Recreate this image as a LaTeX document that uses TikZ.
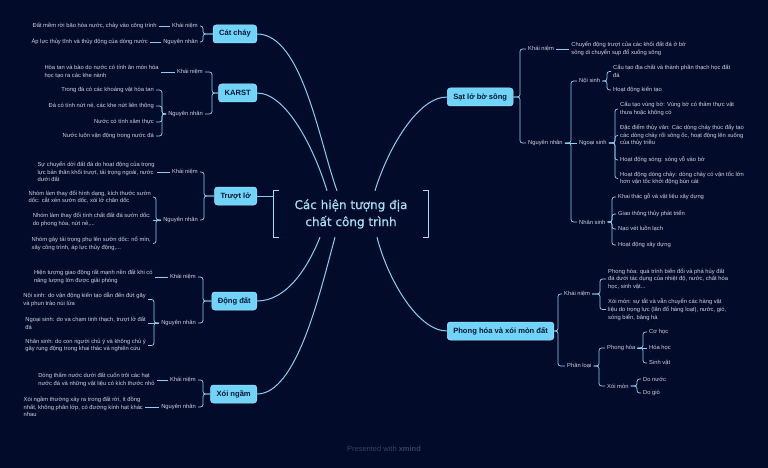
\documentclass[tikz,border=0pt]{standalone}
\usepackage{fontspec}
\setmainfont{Liberation Sans}
\newfontfamily\centerfont[FakeBold=0.7]{DejaVu Sans}
\usetikzlibrary{positioning}
\definecolor{bgc}{HTML}{030B2B}
\definecolor{linec}{HTML}{8CCFEE}
\definecolor{mainc}{HTML}{70D4F8}
\definecolor{mainedge}{HTML}{A5E6FF}
\definecolor{maintext}{HTML}{0A1633}
\definecolor{leafc}{HTML}{CDD3DF}
\definecolor{ctrc}{HTML}{A6DCF4}
\definecolor{wmc}{HTML}{3A4262}
\begin{document}
\begin{tikzpicture}[x=1pt,y=-1pt,
  leaf/.style={font=\fontsize{5.8}{7.6}\selectfont, text=leafc, inner sep=2pt, align=left},
  lab/.style={font=\fontsize{5.8}{7.6}\selectfont, text=leafc, inner sep=2pt},
  mainbox/.style={fill=mainc, draw=mainedge, line width=0.5pt, rounded corners=3pt, text=maintext,
    font=\bfseries\fontsize{7.6}{9}\selectfont, minimum height=18pt, inner xsep=6pt, inner ysep=0pt},
  br/.style={draw=linec, line width=0.75pt, rounded corners=2.5pt},
  curve/.style={draw=linec, line width=1pt},
  cbr/.style={draw=ctrc, line width=1pt},
  ]
\fill[bgc] (0,0) rectangle (768,468);
\useasboundingbox (0,0) rectangle (768,468);

% ---------- centre ----------
\node[font=\centerfont\fontsize{12}{17}\selectfont, text=ctrc, align=center,
  minimum width=154pt, minimum height=46pt, inner sep=0pt] (ctr) at (351,214)
  {Các hiện tượng địa\\chất công trình};
\draw[cbr] ([xshift=5pt]ctr.north west) -- (ctr.north west) -- (ctr.south west) -- ([xshift=5pt]ctr.south west);
\draw[cbr] ([xshift=-5pt]ctr.north east) -- (ctr.north east) -- (ctr.south east) -- ([xshift=-5pt]ctr.south east);

% ---------- Cát cháy ----------
\node[mainbox, anchor=east] (cat) at (257,34) {Cát cháy};
\coordinate (jcat) at (203,34);
\node[lab, anchor=east] (catk) at (200,26) {Khái niệm};
\node[leaf, left=11pt of catk] (catkl) {Đất mềm rời bão hòa nước, chảy vào công trình};
\node[lab, anchor=east] (catn) at (200,42) {Nguyên nhân};
\node[leaf, left=11pt of catn] (catnl) {Áp lực thủy tĩnh và thủy động của dòng nước};
\foreach \c in {catk,catn} \draw[br] (cat.west) -- (jcat) |- (\c.east);
\draw[br] (catk.west) -- (catkl.east);
\draw[br] (catn.west) -- (catnl.east);

% ---------- KARST ----------
\node[mainbox, anchor=east] (kar) at (257,93) {KARST};
\coordinate (jkar) at (212,93);
\node[lab, anchor=east] (kark) at (205,72) {Khái niệm};
\node[leaf, left=14pt of kark] (karkl) {Hòa tan và bào do nước có tính ăn mòn hóa\\học tạo ra các khe nành};
\node[lab, anchor=east] (karn) at (205,114) {Nguyên nhân};
\coordinate (jkarn) at (162,114);
\node[leaf, anchor=east] (karn1) at (156,90) {Trong đá có các khoáng vật hòa tan};
\node[leaf, anchor=east] (karn2) at (156,106) {Đá có tính nứt nẻ, các khe nứt liên thông};
\node[leaf, anchor=east] (karn3) at (156,122) {Nước có tính xâm thực};
\node[leaf, anchor=east] (karn4) at (156,136) {Nước luôn vận động trong nước đá};
\foreach \c in {kark,karn} \draw[br] (kar.west) -- (jkar) |- (\c.east);
\draw[br] (kark.west) -- (karkl.east);
\foreach \c in {karn1,karn2,karn3,karn4} \draw[br] (karn.west) -- (jkarn) |- (\c.east);

% ---------- Trượt lở ----------
\node[mainbox, anchor=east] (tru) at (257,196) {Trượt lở};
\coordinate (jtru) at (204,196);
\node[lab, anchor=east] (truk) at (200,172) {Khái niệm};
\node[leaf, left=13pt of truk] (trukl) {Sự chuyển dời đất đá do hoạt động của trọng\\lực bản thân khối trượt, tải trọng ngoài, nước\\dưới đất};
\node[lab, anchor=east] (trun) at (200,220) {Nguyên nhân};
\coordinate (jtrun) at (156,220);
\node[leaf, anchor=east] (trun1) at (153,197) {Nhóm làm thay đổi hình dạng, kích thước sườn\\dốc: cắt xén sườn dốc, xói lở chân dốc};
\node[leaf, anchor=east] (trun2) at (153,220) {Nhóm làm thay đổi tính chất đất đá sườn dốc:\\do phong hóa, nứt nẻ,...};
\node[leaf, anchor=east] (trun3) at (153,243.5) {Nhóm gây tải trọng phụ lên sườn dốc: nổ mìn,\\xây công trình, áp lực thủy động,...};
\foreach \c in {truk,trun} \draw[br] (tru.west) -- (jtru) |- (\c.east);
\draw[br] (truk.west) -- (trukl.east);
\foreach \c in {trun1,trun3} \draw[br] (trun.west) -- (jtrun) |- (\c.east);
\draw[br] (trun.west) -- (trun2.east);

% ---------- Động đất ----------
\node[mainbox, anchor=east] (dong) at (257,301) {Động đất};
\coordinate (jdong) at (203,301);
\node[lab, anchor=east] (dongk) at (198,277) {Khái niệm};
\node[leaf, left=13pt of dongk] (dongkl) {Hiện tượng giao động rất mạnh nền đất khi có\\năng lượng lớn được giải phóng};
\node[lab, anchor=east] (dongn) at (198,323) {Nguyên nhân};
\coordinate (jdongn) at (154,323);
\node[leaf, anchor=east] (dongn1) at (148,299.5) {Nội sinh: do vận động kiến tạo dẫn đến đứt gãy\\và phun trào núi lửa};
\node[leaf, anchor=east] (dongn2) at (148,323) {Ngoại sinh: do va chạm tinh thạch, trượt lở đất\\đá};
\node[leaf, anchor=east] (dongn3) at (148,345.5) {Nhân sinh: do con người chủ ý và không chủ ý\\gây rung động trong khai thác và nghiên cứu};
\foreach \c in {dongk,dongn} \draw[br] (dong.west) -- (jdong) |- (\c.east);
\draw[br] (dongk.west) -- (dongkl.east);
\foreach \c in {dongn1,dongn3} \draw[br] (dongn.west) -- (jdongn) |- (\c.east);
\draw[br] (dongn.west) -- (dongn2.east);

% ---------- Xói ngầm ----------
\node[mainbox, anchor=east] (xoi) at (257,394) {Xói ngầm};
\coordinate (jxoi) at (203,394);
\node[lab, anchor=east] (xoik) at (198,380) {Khái niệm};
\node[leaf, left=11pt of xoik] (xoikl) {Dòng thấm nước dưới đất cuốn trôi các hạt\\nước đá và những vật liệu có kích thước nhỏ};
\node[lab, anchor=east] (xoin) at (198,407) {Nguyên nhân};
\node[leaf, left=14pt of xoin] (xoinl) {Xói ngầm thường xảy ra trong đất rời, ít đồng\\nhất, không phân lớp, có đường kính hạt khác\\nhau};
\foreach \c in {xoik,xoin} \draw[br] (xoi.west) -- (jxoi) |- (\c.east);
\draw[br] (xoik.west) -- (xoikl.east);
\draw[br] (xoin.west) -- (xoinl.east);

% ---------- Sạt lở bờ sông ----------
\node[mainbox, anchor=west] (sat) at (447,97) {Sạt lở bờ sông};
\coordinate (jsat) at (520,97);
\node[lab, anchor=west] (satk) at (526,49) {Khái niệm};
\node[leaf, right=13pt of satk] (satkl) {Chuyển động trượt của các khối đất đá ở bờ\\sông di chuyển sụp đổ xuống sông};
\node[lab, anchor=west] (satn) at (526,143) {Nguyên nhân};
\coordinate (jsatn) at (571,143);
\node[lab, anchor=west] (noi) at (577,81) {Nội sinh};
\node[lab, anchor=west] (ngoai) at (577,143) {Ngoại sinh};
\node[lab, anchor=west] (nhan) at (577,222) {Nhân sinh};
\coordinate (jnoi) at (607,81);
\node[leaf, anchor=west] (noi1) at (611,71.5) {Cấu tạo địa chất và thành phần thạch học đất\\đá};
\node[leaf, anchor=west] (noi2) at (611,90) {Hoạt động kiến tạo};
\coordinate (jngoai) at (615,143);
\node[leaf, anchor=west] (ng1) at (618,109) {Cấu tạo vùng bờ: Vùng bờ có thảm thực vật\\thưa hoặc không có};
\node[leaf, anchor=west] (ng2) at (618,135.5) {Đặc điểm thủy văn: Các dòng chảy thúc đẩy tạo\\các dòng chảy rối sông ốc, hoạt động lên xuống\\của thủy triều};
\node[leaf, anchor=west] (ng3) at (618,160) {Hoạt động sóng: sóng vỗ vào bờ};
\node[leaf, anchor=west] (ng4) at (618,178.5) {Hoạt động dòng chảy: dòng chảy có vận tốc lớn\\hơn vận tốc khởi động bùn cát};
\coordinate (jnhan) at (612,222);
\node[leaf, anchor=west] (nh1) at (616,197) {Khai thác gỗ và vật liệu xây dựng};
\node[leaf, anchor=west] (nh2) at (616,214) {Giao thông thủy phát triển};
\node[leaf, anchor=west] (nh3) at (616,229) {Nạo vét luồn lạch};
\node[leaf, anchor=west] (nh4) at (616,245) {Hoạt động xây dựng};
\foreach \c in {satk,satn} \draw[br] (sat.east) -- (jsat) |- (\c.west);
\draw[br] (satk.east) -- (satkl.west);
\foreach \c in {noi,nhan} \draw[br] (satn.east) -- (jsatn) |- (\c.west);
\draw[br] (satn.east) -- (ngoai.west);
\foreach \c in {noi1,noi2} \draw[br] (noi.east) -- (jnoi) |- (\c.west);
\foreach \c in {ng1,ng2,ng3,ng4} \draw[br] (ngoai.east) -- (jngoai) |- (\c.west);
\foreach \c in {nh1,nh2,nh3,nh4} \draw[br] (nhan.east) -- (jnhan) |- (\c.west);

% ---------- Phong hóa và xói mòn đất ----------
\node[mainbox, anchor=west] (pho) at (447,331) {Phong hóa và xói mòn đất};
\coordinate (jpho) at (558,331);
\node[lab, anchor=west] (phok) at (562,294) {Khái niệm};
\coordinate (jphok) at (600,294);
\node[leaf, anchor=west] (phok1) at (606,279) {Phong hóa: quá trình biến đổi và phá hủy đất\\đá dưới tác dụng của nhiệt độ, nước, chất hóa\\học, sinh vật...};
\node[leaf, anchor=west] (phok2) at (606,309.5) {Xói mòn: sự tắt và vẫn chuyển các hàng vật\\liệu do trọng lực (lăn đổ hàng loạt), nước, gió,\\sóng biển, băng hà};
\node[lab, anchor=west] (phol) at (565,366) {Phân loại};
\coordinate (jphol) at (599,366);
\node[lab, anchor=west] (phoph) at (605,348) {Phong hóa};
\coordinate (jphoph) at (643,348);
\node[leaf, anchor=west] (co) at (647,332) {Cơ học};
\node[leaf, anchor=west] (hoa) at (647,348) {Hóa học};
\node[leaf, anchor=west] (sinh) at (647,363) {Sinh vật};
\node[lab, anchor=west] (phox) at (605,386) {Xói mòn};
\coordinate (jphox) at (637,386);
\node[leaf, anchor=west] (donuoc) at (641,379) {Do nước};
\node[leaf, anchor=west] (dogio) at (641,393) {Do gió};
\foreach \c in {phok,phol} \draw[br] (pho.east) -- (jpho) |- (\c.west);
\foreach \c in {phok1,phok2} \draw[br] (phok.east) -- (jphok) |- (\c.west);
\foreach \c in {phoph,phox} \draw[br] (phol.east) -- (jphol) |- (\c.west);
\foreach \c in {co,sinh} \draw[br] (phoph.east) -- (jphoph) |- (\c.west);
\draw[br] (phoph.east) -- (hoa.west);
\foreach \c in {donuoc,dogio} \draw[br] (phox.east) -- (jphox) |- (\c.west);

% ---------- main connectors ----------
\draw[curve] (cat.east) .. controls +(45,0) and +(-18,-50) .. ([xshift=-14pt]ctr.north);
\draw[curve] (kar.east) .. controls +(30,0) and +(-12,-40) .. ([xshift=-24pt]ctr.north);
\draw[curve] (sat.west) .. controls +(-30,0) and +(12,-40) .. ([xshift=24pt]ctr.north);
\draw[curve] (tru.east) -- (ctr.west |- tru.east);
\draw[curve] (dong.east) .. controls +(30,0) and +(-12,30) .. ([xshift=-31pt]ctr.south);
\draw[curve] (xoi.east) .. controls +(40,0) and +(-15,55) .. ([xshift=-16pt]ctr.south);
\draw[curve] (pho.west) .. controls +(-30,0) and +(10,40) .. ([xshift=26pt]ctr.south);

% ---------- watermark ----------
\node[font=\fontsize{7.5}{9}\selectfont, text=wmc] (wm) at (384,449) {Presented with \textbf{xmind}};
\end{tikzpicture}
\end{document}
